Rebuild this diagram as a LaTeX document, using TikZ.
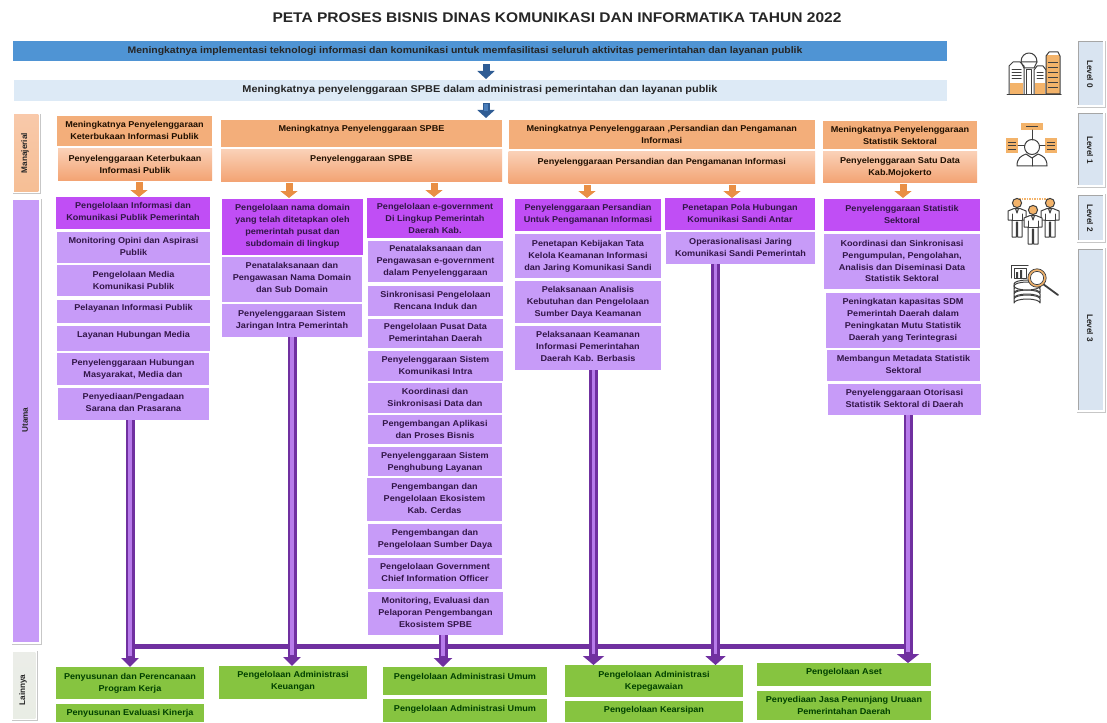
\documentclass[tikz,border=0pt]{standalone}
\usepackage{fontspec}
\setmainfont{Liberation Sans}
\newfontfamily\boxf[FakeStretch=1.07]{Liberation Sans}
\newfontfamily\barf[FakeStretch=1.1]{Liberation Sans}
\newfontfamily\titf[FakeStretch=1.11]{Liberation Sans}
\usetikzlibrary{arrows.meta}
\definecolor{orA}{HTML}{F3AE7A}
\definecolor{orBt}{HTML}{FAD0B6}
\definecolor{orBb}{HTML}{F3A474}
\definecolor{puD}{HTML}{C04EF5}
\definecolor{puL}{HTML}{C79BF8}
\definecolor{gr}{HTML}{86C440}
\definecolor{blA}{HTML}{4F94D4}
\definecolor{blB}{HTML}{DDEAF6}
\definecolor{pipe}{HTML}{7030A0}
\definecolor{pipeL}{HTML}{B77BEA}
\definecolor{arO}{HTML}{E98F45}
\definecolor{arB}{HTML}{4A7EBB}
\definecolor{arBd}{HTML}{2F5C94}
\definecolor{ink}{HTML}{3F3F3F}
\definecolor{ic}{HTML}{F3B36A}
\definecolor{tabc}{HTML}{D9E4F1}
\tikzset{
  x=1pt,y=-1pt,
  bxbase/.style={anchor=north west,inner sep=0pt,outer sep=0pt,align=center,
    font=\fontsize{8.5}{11.8}\boxf\bfseries},
  oa/.style={bxbase,fill=orA,text=black!80!orange!60!black},
  ob/.style={bxbase,top color=orBt,bottom color=orBb,text=black!80!orange!60!black},
  pd/.style={bxbase,fill=puD,text=pipe!45!black},
  pl/.style={bxbase,fill=puL,text=pipe!45!black},
  gn/.style={bxbase,fill=gr,text=green!25!black},
  pipeO/.style={draw=pipe,line width=9pt},
  pipeI/.style={draw=pipeL,line width=3.6pt},
  blockO/.style={draw=arO,line width=7pt,-{Triangle[width=17pt,length=7pt]}},
  blockB/.style={draw=arBd,line width=7pt,-{Triangle[width=17pt,length=8pt]},shorten >=1pt},
  blockBi/.style={draw=arB,line width=4pt},
  ln/.style={draw=ink,line width=1pt,line join=round,line cap=round},
  sidelabel/.style={inner sep=0pt,font=\fontsize{8.2}{9}\selectfont\bfseries,text=black!85},
}
% name, style, x0,y0,x1,y1, centre of first line, text
\newcommand\bx[8]{%
  \pgfmathsetmacro\bxW{#5-#3}\pgfmathsetmacro\bxH{#6-#4}\pgfmathsetmacro\bxP{#7-#4-5.3}%
  \node[#2] (#1) at (#3,#4) {\parbox[c][\bxH pt][t]{\bxW pt}{\vspace*{\bxP pt}\centering\strut #8}};}
% block pipe with head
\newcommand\pipeline[4]{% from, to, head width, x coordinate
  \draw[pipeO,-{Triangle[width=#3pt,length=9pt]}] (#1.south -| #4) -- (#2.north -| #4);
  \draw[pipeI] (#1.south -| #4) -- ([yshift=11pt]#2.north -| #4);}
\newcommand\tabbox[5]{% name, x0,y0,x1,y1
  \fill[black!22] (#2+1,#3+1) rectangle (#4+1,#5+1);
  \fill[white] (#2,#3) rectangle (#4,#5);
  \node[anchor=north west,inner sep=0pt,minimum width=#4-#2-4,minimum height=#5-#3-4,fill=tabc] (#1) at (#2+2,#3+2) {};
  \draw[black!35,line width=1pt] (#2+2,#5-2) -- (#2+2,#3+2) -- (#4-2,#3+2);}
\newcommand\person[3]{% x, head y, leg length
  \fill[ic] (#1,#2) circle (4.6);
  \draw[ln] (#1,#2) circle (4.6);
  \draw[ln,fill=white] (#1-9,#2+17) -- (#1-9,#2+8) -- (#1-3,#2+5.5) -- (#1+3,#2+5.5) -- (#1+9,#2+8) -- (#1+9,#2+17) -- (#1+5,#2+17) -- (#1+5,#2+#3) -- (#1+0.7,#2+#3) -- (#1+0.7,#2+19) -- (#1-0.7,#2+19) -- (#1-0.7,#2+#3) -- (#1-5,#2+#3) -- (#1-5,#2+17) -- cycle;
  \draw[ln] (#1-1.5,#2+5.5) -- (#1,#2+10) -- (#1+1.5,#2+5.5);
  \draw[ln] (#1-5,#2+11) -- (#1-5,#2+17) (#1+5,#2+11) -- (#1+5,#2+17) (#1-5,#2+17) -- (#1+5,#2+17);}
\begin{document}
\begin{tikzpicture}
\useasboundingbox (0,0) rectangle (1107,722);
\fill[white] (0,0) rectangle (1107,722);

\node[inner sep=0pt,font=\fontsize{14}{16}\titf\bfseries,text=black!85] (title) at (557,18) {PETA PROSES BISNIS DINAS KOMUNIKASI DAN INFORMATIKA TAHUN 2022};

% top bars
\node[anchor=north west,inner sep=0pt,minimum width=934,minimum height=20,fill=blA] (bar0) at (13,41) {};
\node[inner sep=0pt,font=\fontsize{9.5}{11}\barf\bfseries,text=black!85] (bar0t) at (465,51) {Meningkatnya implementasi teknologi informasi dan komunikasi untuk memfasilitasi seluruh aktivitas pemerintahan dan layanan publik};
\node[anchor=north west,inner sep=0pt,minimum width=933,minimum height=21,fill=blB] (bar1) at (14,80) {};
\node[inner sep=0pt,font=\fontsize{9.9}{11}\barf\bfseries,text=black!85] (bar1t) at (480,90) {Meningkatnya penyelenggaraan SPBE dalam administrasi pemerintahan dan layanan publik};

% left side tabs
\tabbox{tm}{12}{113}{40}{193}
\fill[top color=orBt!80!orA,bottom color=orA!80!white] (tm.south west) rectangle (tm.north east);
\node[sidelabel,rotate=90] (tmt) at (25,153) {Manajerial};
\tabbox{tu}{11}{198}{41}{644}
\fill[puL] (tu.south west) rectangle (tu.north east);
\node[sidelabel,rotate=90] (tut) at (25,420) {Utama};
\tabbox{tl}{11}{650}{37}{720}
\fill[top color=gr!40!black!10!white,bottom color=gr!55!black!12!white] (tl.south west) rectangle (tl.north east);
\node[sidelabel,rotate=90] (tlt) at (23,690) {Lainnya};

% right side tabs
\tabbox{l0}{1076}{40}{1105}{107}
\node[sidelabel,rotate=-90] (l0t) at (1090,74) {Level 0};
\tabbox{l1}{1076}{112}{1105}{187}
\node[sidelabel,rotate=-90] (l1t) at (1090,150) {Level 1};
\tabbox{l2}{1076}{193}{1105}{242}
\node[sidelabel,rotate=-90] (l2t) at (1090,218) {Level 2};
\tabbox{l3}{1076}{247}{1105}{412}
\node[sidelabel,rotate=-90] (l3t) at (1090,328) {Level 3};

% column 1
\bx{a1}{oa}{57}{116}{212}{146}{125}{Meningkatnya Penyelenggaraan\\Keterbukaan Informasi Publik}
\bx{a2}{ob}{58}{149}{212}{180}{159}{Penyelenggaraan Keterbukaan\\Informasi Publik}
\bx{a3}{pd}{56}{197}{210}{229}{206}{Pengelolaan Informasi dan\\Komunikasi Publik Pemerintah}
\bx{a4}{pl}{57}{232}{210}{263}{241}{Monitoring Opini dan Aspirasi\\Publik}
\bx{a5}{pl}{57}{265}{210}{296}{275}{Pengelolaan Media\\Komunikasi Publik}
\bx{a6}{pl}{57}{300}{210}{323}{308}{Pelayanan Informasi Publik}
\bx{a7}{pl}{57}{326}{210}{351}{335}{Layanan Hubungan Media}
\bx{a8}{pl}{57}{353}{209}{385}{363}{Penyelenggaraan Hubungan\\Masyarakat, Media dan}
\bx{a9}{pl}{58}{388}{209}{420}{397}{Penyediaan/Pengadaan\\Sarana dan Prasarana}

% column 2
\bx{b1}{oa}{221}{120}{502}{147}{129}{Meningkatnya Penyelenggaraan SPBE}
\bx{b2}{ob}{221}{150}{502}{181}{159}{Penyelenggaraan SPBE}
\bx{c1}{pd}{222}{199}{363}{255}{208}{Pengelolaan nama domain\\yang telah ditetapkan oleh\\pemerintah pusat dan\\subdomain di lingkup}
\bx{c2}{pl}{222}{257}{362}{302}{266}{Penatalaksanaan dan\\Pengawasan Nama Domain\\dan Sub Domain}
\bx{c3}{pl}{222}{304}{362}{337}{314}{Penyelenggaraan Sistem\\Jaringan Intra Pemerintah}

\bx{d1}{pd}{367}{198}{503}{238}{207}{Pengelolaan e-government\\Di Lingkup Pemerintah\\Daerah Kab.}
\bx{d2}{pl}{368}{241}{503}{282}{249}{Penatalaksanaan dan\\Pengawasan e-government\\dalam Penyelenggaraan}
\bx{d3}{pl}{368}{286}{503}{316}{295}{Sinkronisasi Pengelolaan\\Rencana Induk dan}
\bx{d4}{pl}{368}{318.5}{503}{348}{327}{Pengelolaan Pusat Data\\Pemerintahan Daerah}
\bx{d5}{pl}{368}{351}{503}{381}{360}{Penyelenggaraan Sistem\\Komunikasi Intra}
\bx{d6}{pl}{368}{382.5}{502}{413}{392}{Koordinasi dan\\Sinkronisasi Data dan}
\bx{d7}{pl}{368}{415}{502}{444}{424}{Pengembangan Aplikasi\\dan Proses Bisnis}
\bx{d8}{pl}{368}{447}{502}{476}{455.5}{Penyelenggaraan Sistem\\Penghubung Layanan}
\bx{d9}{pl}{367}{478}{502}{521}{487}{Pengembangan dan\\Pengelolaan Ekosistem\\Kab. Cerdas}
\bx{d10}{pl}{368}{524}{502}{555}{532.5}{Pengembangan dan\\Pengelolaan Sumber Daya}
\bx{d11}{pl}{368}{558}{502}{589}{566.5}{Pengelolaan Government\\Chief Information Officer}
\bx{d12}{pl}{368}{592}{503}{635}{601}{Monitoring, Evaluasi dan\\Pelaporan Pengembangan\\Ekosistem SPBE}

% column 3
\bx{e1}{oa}{508.5}{120}{815}{149}{129}{Meningkatnya Penyelenggaraan ,Persandian dan Pengamanan\\Informasi}
\bx{e2}{ob}{508.5}{152}{815}{183}{162}{Penyelenggaraan Persandian dan Pengamanan Informasi}
\bx{f1}{pd}{515}{199}{661}{231}{208}{Penyelenggaraan Persandian\\Untuk Pengamanan Informasi}
\bx{f2}{pl}{515}{234}{661}{278}{244}{Penetapan Kebijakan Tata\\Kelola Keamanan Informasi\\dan Jaring Komunikasi Sandi}
\bx{f3}{pl}{515}{281}{661}{323}{290}{Pelaksanaan Analisis\\Kebutuhan dan Pengelolaan\\Sumber Daya Keamanan}
\bx{f4}{pl}{515}{326}{661}{370}{335}{Pelaksanaan Keamanan\\Informasi Pemerintahan\\Daerah Kab. Berbasis}
\bx{g1}{pd}{665}{198}{815}{230}{208}{Penetapan Pola Hubungan\\Komunikasi Sandi Antar}
\bx{g2}{pl}{666}{232}{815}{264}{242}{Operasionalisasi Jaring\\Komunikasi Sandi Pemerintah}

% column 4
\bx{h1}{oa}{823}{121}{977}{149}{130}{Meningkatnya Penyelenggaraan\\Statistik Sektoral}
\bx{h2}{ob}{823}{152}{977}{182}{161}{Penyelenggaraan Satu Data\\Kab.Mojokerto}
\bx{i1}{pd}{824}{199}{980}{231}{208.5}{Penyelenggaraan Statistik\\Sektoral}
\bx{i2}{pl}{824}{234}{980}{289}{243.5}{Koordinasi dan Sinkronisasi\\Pengumpulan, Pengolahan,\\Analisis dan Diseminasi Data\\Statistik Sektoral}
\bx{i3}{pl}{826}{293}{980}{348}{302}{Peningkatan kapasitas SDM\\Pemerintah Daerah dalam\\Peningkatan Mutu Statistik\\Daerah yang Terintegrasi}
\bx{i4}{pl}{827}{350}{980}{381}{358.5}{Membangun Metadata Statistik\\Sektoral}
\bx{i5}{pl}{828}{384}{981}{415}{392.5}{Penyelenggaraan Otorisasi\\Statistik Sektoral di Daerah}

% green row
\bx{j1}{gn}{56}{667}{204}{699}{677}{Penyusunan dan Perencanaan\\Program Kerja}
\bx{j2}{gn}{56}{704}{204}{722}{713}{Penyusunan Evaluasi Kinerja}
\bx{k1}{gn}{219}{666}{367}{699}{675}{Pengelolaan Administrasi\\Keuangan}
\bx{m1}{gn}{383}{667}{547}{695}{677}{Pengelolaan Administrasi Umum}
\bx{m2}{gn}{383}{699}{547}{722}{709}{Pengelolaan Administrasi Umum}
\bx{n1}{gn}{565}{665}{743}{697}{675}{Pengelolaan Administrasi\\Kepegawaian}
\bx{n2}{gn}{565}{701}{743}{722}{710}{Pengelolaan Kearsipan}
\bx{o1}{gn}{757}{663}{931}{686}{672}{Pengelolaan Aset}
\bx{o2}{gn}{757}{691}{931}{720}{699.5}{Penyediaan Jasa Penunjang Uruaan\\Pemerintahan Daerah}

% small arrows
\coordinate (xB) at (486,0);
\draw[blockB,shorten <=3pt] (bar0.south -| xB) -- (bar1.north -| xB);
\draw[blockB,shorten >=2pt,shorten <=2pt] (bar1.south -| xB) -- (b1.north -| xB);
\draw[blockBi,shorten <=3pt,shorten >=9pt] (bar1.south -| xB) -- (b1.north -| xB);
\coordinate (xO1) at (139,0);\coordinate (xO2) at (289,0);\coordinate (xO3) at (434,0);
\coordinate (xO4) at (587,0);\coordinate (xO5) at (732,0);\coordinate (xO6) at (903,0);
\draw[blockO,shorten <=2pt] (a2.south -| xO1) -- (a3.north -| xO1);
\draw[blockO,shorten <=2pt,shorten >=1pt] (b2.south -| xO2) -- (c1.north -| xO2);
\draw[blockO,shorten <=2pt,shorten >=1pt] (b2.south -| xO3) -- (d1.north -| xO3);
\draw[blockO,shorten <=2pt,shorten >=1pt] (e2.south -| xO4) -- (f1.north -| xO4);
\draw[blockO,shorten <=2pt] (e2.south -| xO5) -- (g1.north -| xO5);
\draw[blockO,shorten <=2pt,shorten >=1pt] (h2.south -| xO6) -- (i1.north -| xO6);

% pipes
\coordinate (barL) at (130,646);\coordinate (barR) at (904,646);
\draw[pipe,line width=5pt] (barL) -- (barR);
\coordinate (xP1) at (130,0);\coordinate (xP2) at (292,0);\coordinate (xP3) at (443,0);
\coordinate (xP4) at (593.5,0);\coordinate (xP5) at (715.5,0);\coordinate (xP6) at (908,0);
\pipeline{a9}{j1}{17}{xP1}
\pipeline{c3}{k1}{17}{xP2}
\pipeline{d12}{m1}{18}{xP3}
\pipeline{f4}{n1}{21}{xP4}
\pipeline{g2}{n1}{20}{xP5}
\pipeline{i5}{o1}{22}{xP6}

% icon level 0: buildings
\draw[ln,fill=white] (1009,94) -- (1009,66) -- (1013,62) -- (1020,62) -- (1024,66) -- (1024,94);
\fill[ic] (1010,83) rectangle (1023,94);
\draw[ln] (1012,70) -- (1021,70) (1012,73) -- (1021,73) (1012,76) -- (1021,76) (1012,79) -- (1021,79);
\draw[ln,fill=white] (1026,94) -- (1026,70) -- (1031,70) -- (1031,94);
\draw[ln,fill=white] (1021,62) .. controls (1021,50) and (1037,50) .. (1037,62) -- cycle;
\draw[ln] (1021,62) -- (1024,68) -- (1034,68) -- (1037,62);
\draw[ln,fill=white] (1034,94) -- (1034,70) -- (1037,66) -- (1043,66) -- (1046,70) -- (1046,94);
\fill[ic] (1035,83) rectangle (1045,93.6);
\draw[ln] (1037,73) -- (1043,73) (1037,76) -- (1043,76) (1037,79) -- (1043,79);
\fill[ic] (1046,55) rectangle (1060,94);
\draw[ln] (1046,94) -- (1046,56) -- (1049,52) -- (1058,52) -- (1060,56) -- (1060,94) -- cycle;
\draw[ink,line width=0.8pt] (1048,62) -- (1058,62) (1048,67) -- (1058,67) (1048,72) -- (1058,72) (1048,77) -- (1058,77) (1048,82) -- (1058,82) (1048,87) -- (1058,87);
\draw[ln] (1007,94.5) -- (1061,94.5);

% icon level 1: person with boxes
\fill[ic] (1021,123) rectangle (1043,130);
\draw[ink,line width=0.8pt] (1026,126.5) -- (1038,126.5);
\fill[ic] (1006,138) rectangle (1018,153);
\fill[ic] (1045,138) rectangle (1057,153);
\draw[ink,line width=0.7pt] (1008,142) -- (1016,142) (1008,145.5) -- (1016,145.5) (1008,149) -- (1016,149);
\draw[ink,line width=0.7pt] (1047,142) -- (1055,142) (1047,145.5) -- (1055,145.5) (1047,149) -- (1055,149);
\draw[ln] (1032,130) -- (1032,140) (1018,146) -- (1024.5,146) (1039.5,146) -- (1045,146);
\draw[ln] (1032,147) circle (7.5);
\draw[ln] (1017,166) .. controls (1017,158) and (1021,156) .. (1026,154) -- (1032,158) -- (1038,154) .. controls (1043,156) and (1047,158) .. (1047,166) -- cycle;
\draw[ln] (1032,158) -- (1032,166);

% icon level 2: people
\draw[ic,line width=1.2pt,dash pattern=on 1.5pt off 1pt] (1019,199) -- (1048,199);
\person{1017}{203}{34}
\person{1050}{203}{34}
\person{1033}{210}{34}

% icon level 3: chart and data
\draw[ln,fill=white] (1011,278) -- (1011,265) -- (1028,265);
\draw[ln,fill=white] (1014,268) rectangle (1026,278);
\fill[ink] (1016,272) rectangle (1018,278) (1020,270) rectangle (1022,278);
\draw[ln,line width=1.8pt] (1043,284) -- (1058,295);
\foreach \yy in {303,298,293,288}{
  \draw[ln,fill=white] (1014,\yy) -- (1014,\yy-4) arc[x radius=13,y radius=4,start angle=180,end angle=360] -- (1040,\yy) arc[x radius=13,y radius=4,start angle=0,end angle=-180];}
\draw[ln,fill=white] (1027,286) ellipse (13 and 4);
\draw[ic,line width=2.2pt,fill=white] (1037,278) circle (8);
\draw[ink,line width=0.7pt] (1037,278) circle (9.2);
\draw[ink,line width=0.7pt] (1037,278) circle (6.6);
\end{tikzpicture}
\end{document}
